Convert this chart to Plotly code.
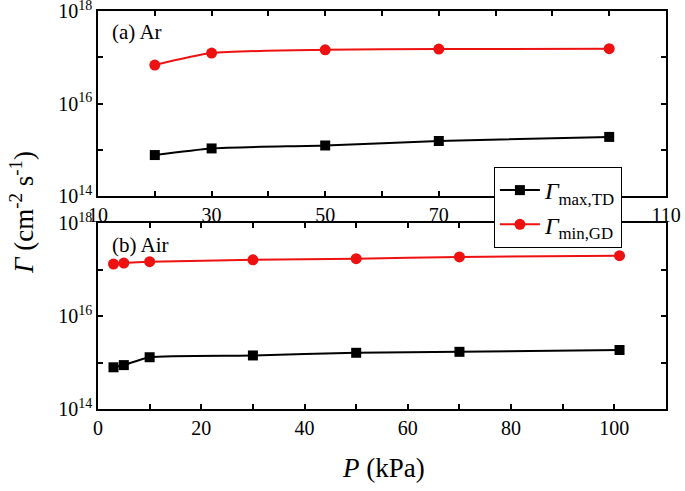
import plotly.graph_objects as go

# Data
ar_p = [20, 30, 50, 70, 100]
ar_td = [7.7e14, 1.07e15, 1.24e15, 1.55e15, 1.9e15]
ar_gd = [6.8e16, 1.23e17, 1.45e17, 1.5e17, 1.53e17]

air_p = [3, 5, 10, 30, 50, 70, 101]
air_td = [7.9e14, 8.8e14, 1.3e15, 1.42e15, 1.62e15, 1.7e15, 1.86e15]
air_gd = [1.32e17, 1.38e17, 1.48e17, 1.62e17, 1.72e17, 1.87e17, 1.99e17]

y_major = [1e14, 1e16, 1e18]
y_major_text = ["10<sup>14</sup>", "10<sup>16</sup>", "10<sup>18</sup>"]
y_minor = [1e15, 1e17]

ar_xticks = [10, 30, 50, 70, 90, 110]
air_xticks = [0, 20, 40, 60, 80, 100]

name_td = "<i>Γ</i><sub>max,TD</sub>"
name_gd = "<i>Γ</i><sub>min,GD</sub>"

FONT = "Liberation Serif, Times New Roman, serif"
BLACK = "#000000"
RED = "#ee1111"

fig = go.Figure()

line_td = dict(color=BLACK, width=2, shape="spline", smoothing=0.6)
line_gd = dict(color=RED, width=2, shape="spline", smoothing=0.6)

fig.add_trace(go.Scatter(x=ar_p, y=ar_td, mode="lines+markers", name=name_td,
                         line=line_td,
                         marker=dict(symbol="square", size=10, color=BLACK),
                         xaxis="x", yaxis="y"))
fig.add_trace(go.Scatter(x=ar_p, y=ar_gd, mode="lines+markers", name=name_gd,
                         line=line_gd,
                         marker=dict(symbol="circle", size=11, color=RED),
                         xaxis="x", yaxis="y"))
fig.add_trace(go.Scatter(x=air_p, y=air_td, mode="lines+markers", showlegend=False,
                         line=line_td,
                         marker=dict(symbol="square", size=10, color=BLACK),
                         xaxis="x2", yaxis="y2"))
fig.add_trace(go.Scatter(x=air_p, y=air_gd, mode="lines+markers", showlegend=False,
                         line=line_gd,
                         marker=dict(symbol="circle", size=11, color=RED),
                         xaxis="x2", yaxis="y2"))

common_ax = dict(showline=True, linecolor=BLACK, linewidth=1.5, mirror="ticks",
                 ticks="inside", ticklen=5, tickwidth=1.5, tickcolor=BLACK,
                 showgrid=False, zeroline=False, automargin=False,
                 ticklabeloverflow="allow",
                 tickfont=dict(family=FONT, size=20, color=BLACK))

minor_t = dict(ticks="inside", ticklen=5, tickwidth=1.5, tickcolor=BLACK)

yax = dict(type="log", range=[14, 18], tickvals=y_major, ticktext=y_major_text,
           minor=dict(tickvals=y_minor, **minor_t), **common_ax)

fig.update_layout(
    width=685, height=491,
    margin=dict(l=98, r=19, t=11, b=82),
    paper_bgcolor="white", plot_bgcolor="white",
    font=dict(family=FONT, color=BLACK),
    xaxis=dict(domain=[0, 1], anchor="y", range=[10, 110], tickvals=ar_xticks,
               minor=dict(dtick=10, **minor_t), **common_ax),
    yaxis=dict(domain=[0.535, 1], anchor="x", **yax),
    xaxis2=dict(domain=[0, 1], anchor="y2", range=[0, 110], tickvals=air_xticks,
                minor=dict(dtick=10, **minor_t), **common_ax),
    yaxis2=dict(domain=[0, 0.467], anchor="x2", **yax),
    legend=dict(x=0.697, y=0.608, xanchor="left", yanchor="top",
                bgcolor="white", bordercolor=BLACK, borderwidth=1,
                font=dict(family=FONT, size=24, color=BLACK),
                itemwidth=40),
    showlegend=True,
)

fig.add_annotation(text="(a) Ar", xref="paper", yref="paper", x=0.021, y=0.947,
                   xanchor="left", yanchor="middle", showarrow=False,
                   font=dict(family=FONT, size=21, color=BLACK))
fig.add_annotation(text="(b) Air", xref="paper", yref="paper", x=0.021, y=0.412,
                   xanchor="left", yanchor="middle", showarrow=False,
                   font=dict(family=FONT, size=21, color=BLACK))
fig.add_annotation(text="<i>Γ</i> (cm<sup>-2</sup> s<sup>-1</sup>)", xref="paper", yref="paper",
                   x=-0.134, y=0.495, xanchor="center", yanchor="middle", textangle=-90,
                   showarrow=False, font=dict(family=FONT, size=27, color=BLACK))
fig.add_annotation(text="<i>P</i> (kPa)", xref="paper", yref="paper",
                   x=0.502, y=-0.148, xanchor="center", yanchor="middle",
                   showarrow=False, font=dict(family=FONT, size=27, color=BLACK))

fig.write_html("out.html", config={"displayModeBar": False},
               post_script="document.body.style.margin='0px';")
